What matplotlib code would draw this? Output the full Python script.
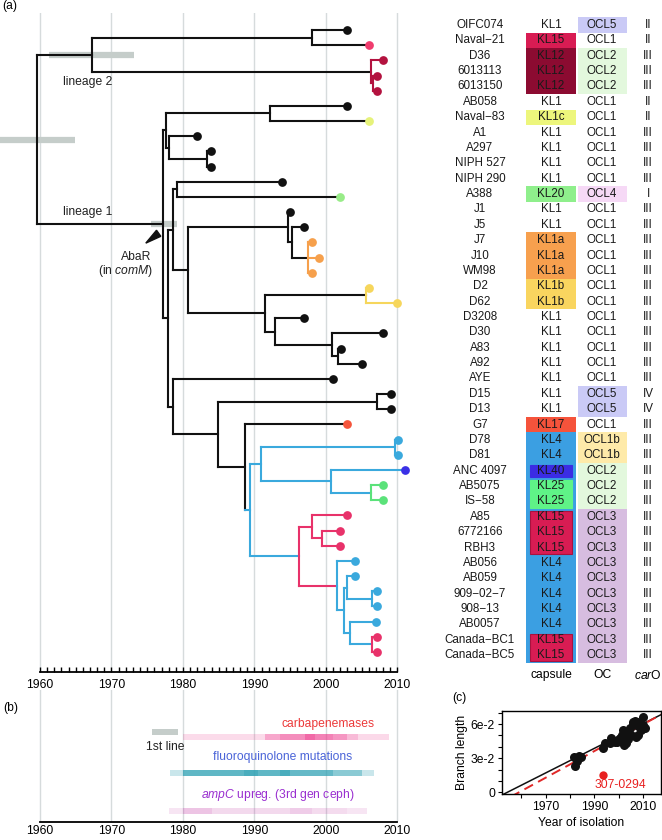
import matplotlib.pyplot as plt
from matplotlib.patches import Rectangle, Polygon
from itertools import groupby

plt.rcParams['font.family'] = ['Liberation Sans', 'DejaVu Sans']
plt.rcParams['mathtext.fontset'] = 'custom'
plt.rcParams['mathtext.rm'] = 'Liberation Sans'
plt.rcParams['mathtext.it'] = 'Liberation Sans:italic'

K = '#111111'
BLUE = '#3aa9dd'
PINK = '#e8326a'
DRED = '#b3123f'
ORANGE = '#f6a04c'
YELLOW = '#f6d65c'
GREEN = '#5be27a'
HPD = '#c5cdca'
GRID = '#d6dbdc'

# ---- tips, top to bottom
tip_names = ['OIFC074', 'Naval\u221221', 'D36', '6013113', '6013150', 'AB058', 'Naval\u221283',
             'A1', 'A297', 'NIPH 527', 'NIPH 290', 'A388', 'J1', 'J5', 'J7', 'J10', 'WM98',
             'D2', 'D62', 'D3208', 'D30', 'A83', 'A92', 'AYE', 'D15', 'D13', 'G7', 'D78', 'D81',
             'ANC 4097', 'AB5075', 'IS\u221258', 'A85', '6772166', 'RBH3', 'AB056', 'AB059',
             '909\u221202\u22127', '908\u221213', 'AB0057', 'Canada\u2212BC1', 'Canada\u2212BC5']
tip_years = [2003.0, 2006.0, 2008.0, 2007.1, 2007.1, 2003.0, 2006.0,
             1981.9, 1983.9, 1983.9, 1993.9, 2002.0, 1995.0, 1996.9, 1998.0, 1999.0, 1998.0,
             2006.0, 2010.0, 1996.9, 2008.0, 2002.1, 2005.0, 2001.0, 2009.1, 2009.1, 2002.9, 2010.1, 2010.1,
             2011.05, 2008.0, 2008.0, 2003.0, 2002.0, 2002.0, 2004.1, 2004.1,
             2007.1, 2007.1, 2007.0, 2007.1, 2007.1]
tip_colors = [K, '#f03c6e', DRED, DRED, DRED, K, '#e6f27a',
              K, K, K, K, '#98ec88', K, K, ORANGE, ORANGE, ORANGE,
              YELLOW, YELLOW, K, K, K, K, K, K, K, '#f5553c', BLUE, BLUE,
              '#3a30e6', GREEN, GREEN, PINK, PINK, PINK, BLUE, BLUE,
              BLUE, BLUE, BLUE, PINK, PINK]

capsule = ['KL1', 'KL15', 'KL12', 'KL12', 'KL12', 'KL1', 'KL1c', 'KL1', 'KL1', 'KL1', 'KL1',
           'KL20', 'KL1', 'KL1', 'KL1a', 'KL1a', 'KL1a', 'KL1b', 'KL1b', 'KL1', 'KL1', 'KL1',
           'KL1', 'KL1', 'KL1', 'KL1', 'KL17', 'KL4', 'KL4', 'KL40', 'KL25', 'KL25', 'KL15',
           'KL15', 'KL15', 'KL4', 'KL4', 'KL4', 'KL4', 'KL4', 'KL15', 'KL15']
oc_type = ['OCL5', 'OCL1', 'OCL2', 'OCL2', 'OCL2', 'OCL1', 'OCL1', 'OCL1', 'OCL1', 'OCL1', 'OCL1',
           'OCL4', 'OCL1', 'OCL1', 'OCL1', 'OCL1', 'OCL1', 'OCL1', 'OCL1', 'OCL1', 'OCL1', 'OCL1',
           'OCL1', 'OCL1', 'OCL5', 'OCL5', 'OCL1', 'OCL1b', 'OCL1b', 'OCL2', 'OCL2', 'OCL2', 'OCL3',
           'OCL3', 'OCL3', 'OCL3', 'OCL3', 'OCL3', 'OCL3', 'OCL3', 'OCL3', 'OCL3']
car_o = ['II', 'II', 'III', 'III', 'III', 'II', 'II', 'III', 'III', 'III', 'III', 'I'] + \
        ['III'] * 12 + ['IV', 'IV'] + ['III'] * 16

cap_colors = {'KL15': '#d81c53', 'KL12': '#8c0b31', 'KL1c': '#edf67c', 'KL20': '#8fef8c',
              'KL1a': '#f7a04e', 'KL1b': '#f9d55f', 'KL17': '#f5533b', 'KL4': '#3b9fe2',
              'KL40': '#3b2ce4', 'KL25': '#5ff387'}
oc_colors = {'OCL5': '#cacaf6', 'OCL2': '#e3f8dd', 'OCL4': '#f6d9f6', 'OCL1b': '#feeaa9',
             'OCL3': '#d7bde0'}
blue_rows = list(range(27, 42))  # capsule column background of the KL4 clade

# ---- internal nodes: name -> (year, children, colour)
nodes = {
    'root': (1959.6, ['lin2', 'lin1'], K),
    'lin2': (1967.3, ['n_oifc', 'n_d36'], K),
    'n_oifc': (1998.0, ['OIFC074', 'Naval\u221221'], K),
    'n_d36': (2006.3, ['D36', 'n_6013'], DRED),
    'n_6013': (2006.6, ['6013113', '6013150'], DRED),
    'lin1': (1977.2, ['n_top', 'n_mid'], K),
    'n_top': (1977.6, ['n_ab058', 'n_a1'], K),
    'n_ab058': (1992.2, ['AB058', 'Naval\u221283'], K),
    'n_a1': (1978.0, ['A1', 'n_a297'], K),
    'n_a297': (1983.4, ['A297', 'NIPH 527'], K),
    'n_mid': (1977.9, ['n_niph', 'n_aye'], K),
    'n_niph': (1978.6, ['n_a388', 'n_j'], K),
    'n_a388': (1979.1, ['NIPH 290', 'A388'], K),
    'n_j': (1980.7, ['n_j1', 'n_d'], K),
    'n_j1': (1994.7, ['J1', 'n_j5'], K),
    'n_j5': (1995.3, ['J5', 'n_j7'], K),
    'n_j7': (1997.5, ['J7', 'J10', 'WM98'], ORANGE),
    'n_d': (1991.5, ['n_d2', 'n_d3208'], K),
    'n_d2': (2005.6, ['D2', 'D62'], YELLOW),
    'n_d3208': (1992.8, ['D3208', 'n_d30'], K),
    'n_d30': (2000.8, ['D30', 'n_a83'], K),
    'n_a83': (2001.7, ['A83', 'A92'], K),
    'n_aye': (1978.6, ['AYE', 'n_d15'], K),
    'n_d15': (1984.85, ['n_d13', 'n_g7'], K),
    'n_d13': (2007.1, ['D15', 'D13'], K),
    'n_g7': (1988.7, ['G7', 'n_blue'], K),
    'n_blue': (1989.4, ['n_d78', 'n_pink'], BLUE),
    'n_d78': (1990.9, ['n_d81', 'n_anc'], BLUE),
    'n_d81': (2009.7, ['D78', 'D81'], BLUE),
    'n_anc': (2000.7, ['ANC 4097', 'n_ab5075'], BLUE),
    'n_ab5075': (2006.3, ['AB5075', 'IS\u221258'], GREEN),
    'n_pink': (1996.2, ['n_a85', 'n_ab056'], PINK),
    'n_a85': (1998.0, ['A85', 'n_6772'], PINK),
    'n_6772': (1999.4, ['6772166', 'RBH3'], PINK),
    'n_ab056': (2001.5, ['AB056', 'n_ab059'], BLUE),
    'n_ab059': (2002.5, ['n_909', 'n_ab0057'], BLUE),
    'n_909': (2002.9, ['AB059', 'n_908'], BLUE),
    'n_908': (2006.5, ['909\u221202\u22127', '908\u221213'], BLUE),
    'n_ab0057': (2003.4, ['AB0057', 'n_bc'], BLUE),
    'n_bc': (2006.5, ['Canada\u2212BC1', 'Canada\u2212BC5'], PINK),
}
stem_override = {'n_blue': BLUE}

# 95% HPD bars on node ages
hpd_nodes = ['root', 'lin2', 'lin1']
hpd_lo = [1954.0, 1961.3, 1975.5]
hpd_hi = [1964.9, 1973.1, 1979.2]

# ---- panel (b): resistance acquisition, (start, end) edges and intensity
carb_edges = [1980.0, 1991.5, 1993.5, 1997.0, 1998.5, 2001.0, 2003.0, 2004.5, 2008.8]
carb_alpha = [0.17, 0.42, 0.55, 0.72, 0.6, 0.5, 0.33, 0.18]
fq_edges = [1978.2, 1980.0, 1988.5, 1990.5, 1993.5, 1995.0, 2001.0, 2005.0, 2006.7]
fq_alpha = [0.25, 0.75, 0.85, 0.75, 0.85, 0.72, 0.55, 0.25]
ampc_edges = [1978.0, 1980.0, 1984.0, 1995.0, 1998.0, 2003.0, 2005.7]
ampc_alpha = [0.12, 0.28, 0.18, 0.24, 0.17, 0.12]
first_line = (1975.7, 1979.3)

# ---- panel (c): root-to-tip regression
iso_year = [1981.6, 1981.9, 1982.9, 1983.7, 1984.3, 1993.6, 1994.3, 1996.3, 1997.0, 1998.4,
            1999.5, 2000.5, 2001.2, 2001.8, 2001.8, 2002.5, 2003.2, 2003.9, 2004.6, 2005.0,
            2005.9, 2006.5, 2007.3, 2007.0, 2008.0, 2008.7, 2009.3, 2010.0, 2010.7, 2010.2,
            2004.0, 2002.0, 2006.0, 2008.0, 2007.5]
branch_len = [0.0307, 0.0235, 0.0272, 0.0316, 0.0310, 0.0389, 0.0432, 0.0432, 0.0475, 0.0438,
              0.0440, 0.0475, 0.0500, 0.0548, 0.0446, 0.0490, 0.0430, 0.0520, 0.0562, 0.0500,
              0.0620, 0.0630, 0.0490, 0.0610, 0.0580, 0.0606, 0.0548, 0.0664, 0.0562, 0.0590,
              0.0470, 0.0420, 0.0600, 0.0500, 0.0620]
outlier = (1993.6, 0.015)
fit_all = (0.00108, 1954.2)   # slope, x-intercept
fit_excl = (0.00117, 1959.0)


W, H = 662, 840
fig = plt.figure(figsize=(W / 100, H / 100), dpi=100)


def px_axes(x0, y0, x1, y1):
    return fig.add_axes([x0 / W, 1 - y1 / H, (x1 - x0) / W, (y1 - y0) / H])


# ================= (a) tree
ax = px_axes(0, 13, 410, 672)
ax.set_xlim(1954.41, 2011.75)
ax.set_ylim(42.32, -1.12)
for s in ['top', 'right', 'left']:
    ax.spines[s].set_visible(False)
ax.spines['bottom'].set_bounds(1960, 2010)
ax.spines['bottom'].set_linewidth(1.3)
ax.set_yticks([])
ax.set_xticks(range(1960, 2011, 10))
ax.set_xticks(range(1960, 2011), minor=True)
ax.tick_params(axis='x', which='both', direction='in', length=3.5, width=1, labelsize=8.7, pad=5)
for yr in range(1960, 2011, 10):
    ax.axvline(yr, color=GRID, lw=1, zorder=0)


def node_y(n):
    if n in tip_names:
        return tip_names.index(n)
    kids = nodes[n][1]
    return (node_y(kids[0]) + node_y(kids[-1])) / 2


LW = 1.5


def draw(n, parent_year, color_in):
    y = node_y(n)
    if n in tip_names:
        i = tip_names.index(n)
        ax.plot([parent_year, tip_years[i]], [y, y], color=color_in, lw=LW,
                solid_capstyle='projecting', zorder=2)
        ax.plot(tip_years[i], y, 'o', color=tip_colors[i], ms=6.3, mec='none',
                clip_on=False, zorder=3)
        return
    year, kids, col = nodes[n]
    if parent_year is not None:
        ax.plot([parent_year, year], [y, y], color=stem_override.get(n, color_in), lw=LW,
                solid_capstyle='projecting', zorder=2)
    ax.plot([year, year], [node_y(kids[0]), node_y(kids[-1])], color=col, lw=LW,
            solid_capstyle='projecting', zorder=2)
    for k in kids:
        draw(k, year, col)


for n, lo, hi in zip(hpd_nodes, hpd_lo, hpd_hi):
    ax.plot([lo, hi], [node_y(n)] * 2, color=HPD, lw=4.5, solid_capstyle='butt', zorder=1,
            clip_on=False)
draw('root', None, K)

ax.text(1963.2, 3.4, 'lineage 2', fontsize=8.7, va='center', color='#222222')
ax.text(1963.2, 12.0, 'lineage 1', fontsize=8.7, va='center', color='#222222')
ax.text(1975.6, 14.95, 'AbaR', fontsize=8.7, va='center', ha='right', color='#222222')
ax.text(1975.8, 15.9, r'(in $\mathit{comM}$)', fontsize=8.7, va='center', ha='right',
        color='#222222')
ax.add_patch(Polygon([(1974.8, 14.05), (1976.3, 13.2), (1976.9, 13.6)], closed=True,
                     color=K, zorder=3))

# ================= (b) resistance
bx = px_axes(0, 690, 410, 822)
bx.set_xlim(1954.41, 2011.75)
bx.set_ylim(132, -2)
for s in ['top', 'right', 'left']:
    bx.spines[s].set_visible(False)
bx.spines['bottom'].set_bounds(1960, 2010)
bx.spines['bottom'].set_linewidth(1.3)
bx.set_yticks([])
bx.set_xticks(range(1960, 2011, 10))
bx.tick_params(axis='x', length=0, labelsize=8.7, pad=2)
for yr in range(1960, 2011, 10):
    bx.axvline(yr, color=GRID, lw=1, zorder=0)


def strip(edges, alphas, color, yc):
    segs = [(a, b - a) for a, b in zip(edges[:-1], edges[1:])]
    cols = [(*plt.matplotlib.colors.to_rgb(color), al) for al in alphas]
    bx.broken_barh(segs, (yc - 3, 6), facecolors=cols, zorder=2)


bx.broken_barh([(first_line[0], first_line[1] - first_line[0])], (38, 6), facecolors=HPD,
               zorder=2)
bx.text(sum(first_line) / 2, 56, '1st line', fontsize=8.7, ha='center', va='center',
        color='#222222')
strip(carb_edges, carb_alpha, '#ec2f86', 46)
bx.text(2000.3, 33, 'carbapenemases', fontsize=8.7, ha='center', va='center', color='#ec3a3a')
strip(fq_edges, fq_alpha, '#2a9fb2', 82)
bx.text(1994.0, 66, 'fluoroquinolone mutations', fontsize=8.7, ha='center', va='center',
        color='#4a64d8')
strip(ampc_edges, ampc_alpha, '#c02da0', 121)
bx.text(1993.3, 105, r'$\mathit{ampC}$ upreg. (3rd gen ceph)', fontsize=8.7, ha='center',
        va='center', color='#9a2fd0')

# ================= table
tx = px_axes(410, 13, 662, 690)
tx.set_xlim(410, 662)
tx.set_ylim(43.27, -0.78)
tx.axis('off')
COL_NAME, COL_CAP, COL_OC, COL_CAR = 480, 551, 602, 648
CAP_X, OC_X = (526, 576), (578, 627)

tx.add_patch(Rectangle((CAP_X[0], blue_rows[0] - 0.5), CAP_X[1] - CAP_X[0], len(blue_rows),
                       color=cap_colors['KL4'], lw=0))
row = 0
for val, grp in groupby(capsule):
    n = len(list(grp))
    if val in cap_colors and not (row in blue_rows and val == 'KL4'):
        if row in blue_rows:
            tx.add_patch(Rectangle((CAP_X[0] + 4, row - 0.4), CAP_X[1] - CAP_X[0] - 8, n - 0.2,
                                   facecolor=cap_colors[val], edgecolor='#a8123f' if val == 'KL15'
                                   else cap_colors[val], lw=0.8))
        else:
            tx.add_patch(Rectangle((CAP_X[0], row - 0.5), CAP_X[1] - CAP_X[0], n,
                                   facecolor=cap_colors[val], lw=0))
    row += n
row = 0
for val, grp in groupby(oc_type):
    n = len(list(grp))
    if val in oc_colors:
        tx.add_patch(Rectangle((OC_X[0], row - 0.5), OC_X[1] - OC_X[0], n,
                               facecolor=oc_colors[val], lw=0))
    row += n

for i in range(len(tip_names)):
    tx.text(COL_NAME, i, tip_names[i], fontsize=8.4, ha='center', va='center', color='#1a1a1a')
    tx.text(COL_CAP, i, capsule[i], fontsize=8.4, ha='center', va='center', color='#1a1a1a')
    tx.text(COL_OC, i, oc_type[i], fontsize=8.4, ha='center', va='center', color='#1a1a1a')
    tx.text(COL_CAR, i, car_o[i], fontsize=8.4, ha='center', va='center', color='#1a1a1a')
tx.text(COL_CAP, 42.3, 'capsule', fontsize=8.7, ha='center', va='center')
tx.text(COL_OC, 42.3, 'OC', fontsize=8.7, ha='center', va='center')
tx.text(COL_CAR, 42.3, r'$\mathit{car}$O', fontsize=8.7, ha='center', va='center')

# ================= (c) regression
cx = px_axes(502, 711, 661, 794)
cx.set_xlim(1952, 2017.4)
cx.set_ylim(-0.0015, 0.0715)
cx.plot(iso_year, branch_len, 'o', color=K, ms=6.5, mec='none', zorder=3)
xs = [1950, 2020]
cx.plot(xs, [fit_all[0] * (x - fit_all[1]) for x in xs], color=K, lw=1.1, zorder=2)
cx.plot(xs, [fit_excl[0] * (x - fit_excl[1]) for x in xs], color='#e02828', lw=1.4,
        ls=(0, (5, 3)), zorder=2)
cx.plot(*outlier, 'o', color='#e82020', ms=6, mec='none', zorder=3)
cx.text(2000.5, 0.0062, '307-0294', fontsize=8.7, ha='center', va='center', color='#e82020')
cx.set_xticks([1970, 1990, 2010])
cx.set_xticks([1960, 1980, 2000], minor=True)
cx.set_yticks([0, 0.03, 0.06])
cx.set_yticklabels(['0', '3e-2', '6e-2'])
cx.set_yticks([0.01, 0.02, 0.04, 0.05, 0.07], minor=True)
cx.tick_params(which='both', labelsize=8.7, length=3, width=0.8, pad=2)
cx.set_xlabel('Year of isolation', fontsize=8.7, labelpad=3)
cx.set_ylabel('Branch length', fontsize=8.7, labelpad=2)
for s in cx.spines.values():
    s.set_linewidth(1.0)

fig.text(2 / W, 1 - 6 / H, '(a)', fontsize=8.7, va='center')
fig.text(3 / W, 1 - 708 / H, '(b)', fontsize=8.7, va='center')
fig.text(452 / W, 1 - 698 / H, '(c)', fontsize=8.7, va='center')

fig.savefig('out.png', dpi=100)
